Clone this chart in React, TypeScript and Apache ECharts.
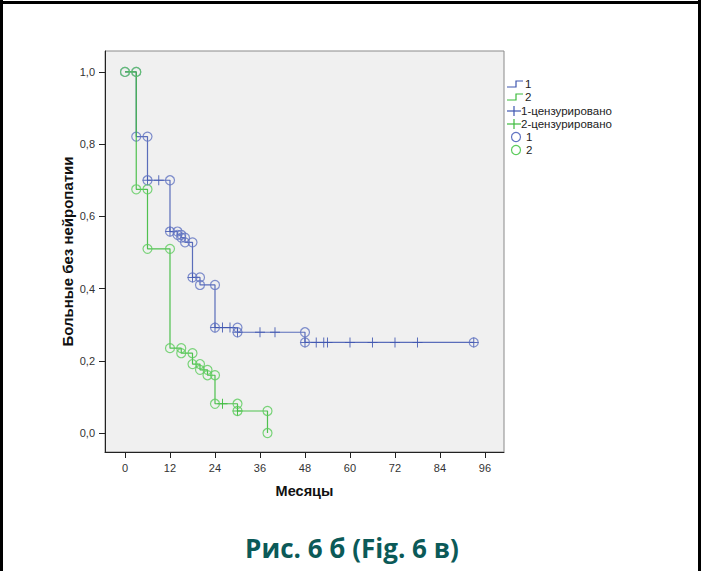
import React, { useEffect, useRef } from "react";
import * as echarts from "echarts";

// Axis ticks
const monthTicks = [0, 12, 24, 36, 48, 60, 72, 84, 96];
const survivalTicks = [0, 0.2, 0.4, 0.6, 0.8, 1.0];

// Group 1: event times (months) and survival after each event
const eventTimes1 = [0, 3, 6, 12, 14, 15, 16, 18, 20, 24, 30, 48];
const survival1 = [1, 0.821, 0.7, 0.558, 0.549, 0.541, 0.528, 0.431, 0.41, 0.292, 0.279, 0.251];
const lastFollowUp1 = 93;
const censoredTimes1 = [6, 9, 12, 18, 24, 26, 28, 30, 36, 40, 48, 51, 53, 54, 60, 66, 72, 78, 93];

// Group 2
const eventTimes2 = [0, 3, 6, 12, 15, 18, 20, 22, 24, 30, 38];
const survival2 = [1, 0.675, 0.51, 0.235, 0.221, 0.191, 0.175, 0.16, 0.081, 0.061, 0];
const lastFollowUp2 = 38;
const censoredTimes2 = [26, 30];

const BLUE = "#3f56b0";
const GREEN = "#3dbb3d";
const BLUE_MARK = "#6174c2";
const GREEN_MARK = "#5ccc5c";

const PLUS = "path://M4.5,0h1v10h-1zM0,4.5h10v1h-10z";

function stepValue(times: number[], values: number[], t: number) {
  let v = values[0];
  for (let i = 0; i < times.length; i++) if (times[i] <= t) v = values[i];
  return v;
}

function curve(times: number[], values: number[], last: number) {
  const pts = times.map((t, i) => [t, values[i]]);
  if (last > times[times.length - 1]) pts.push([last, values[values.length - 1]]);
  return pts;
}

function eventMarks(times: number[], values: number[], last: number) {
  const pts: number[][] = [[times[0], values[0]]];
  for (let i = 1; i < times.length; i++) {
    pts.push([times[i], values[i - 1]]);
    pts.push([times[i], values[i]]);
  }
  if (last > times[times.length - 1]) pts.push([last, values[values.length - 1]]);
  return pts;
}

function censorMarks(times: number[], values: number[], cens: number[]) {
  return cens.map((t) => [t, stepValue(times, values, t)]);
}

const fmt = (v: number) => v.toFixed(1).replace(".", ",");

export default function App() {
  const ref = useRef<HTMLDivElement>(null);

  useEffect(() => {
    if (!ref.current) return;
    const chart = echarts.init(ref.current, undefined, { renderer: "svg" });
    const font = "'Liberation Sans', Arial, sans-serif";
    const legendRows = [84, 97, 111, 124, 137, 150];

    const stepIcon = (y: number, color: string) => ({
      type: "polyline",
      shape: { points: [[507, y + 3], [516, y + 3], [516, y - 3], [523, y - 3]] },
      style: { stroke: color, lineWidth: 1.2, fill: "none" },
    });
    const plusIcon = (y: number, color: string) => ({
      type: "group",
      children: [
        { type: "line", shape: { x1: 507, y1: y, x2: 521, y2: y }, style: { stroke: color, lineWidth: 1.2 } },
        { type: "line", shape: { x1: 514, y1: y - 5, x2: 514, y2: y + 5 }, style: { stroke: color, lineWidth: 1.2 } },
      ],
    });
    const circleIcon = (y: number, color: string) => ({
      type: "circle",
      shape: { cx: 516, cy: y, r: 4.5 },
      style: { stroke: color, lineWidth: 1.2, fill: "none" },
    });
    const legendText = (x: number, y: number, text: string) => ({
      type: "text",
      x,
      y,
      style: { text, font: `11.5px ${font}`, fill: "#222", verticalAlign: "middle", align: "left" },
    });

    chart.setOption({
      animation: false,
      backgroundColor: "#ffffff",
      grid: {
        left: 105,
        top: 51,
        width: 399,
        height: 401,
        show: true,
        backgroundColor: "#f0f0f0",
        borderColor: "#8a8a8a",
        borderWidth: 1,
      },
      xAxis: {
        type: "value",
        min: -5.333,
        max: 101.07,
        name: "Месяцы",
        nameLocation: "middle",
        nameGap: 31,
        nameTextStyle: { fontFamily: font, fontWeight: "bold", fontSize: 14.5, color: "#111" },
        axisLine: { onZero: false, lineStyle: { color: "#222", width: 1 } },
        axisTick: { show: true, length: 6, customValues: monthTicks, lineStyle: { color: "#222" } },
        axisLabel: { customValues: monthTicks, margin: 10, fontFamily: font, fontSize: 11, color: "#333" },
        splitLine: { show: false },
      },
      yAxis: {
        type: "value",
        min: -0.0526,
        max: 1.058,
        name: "Больные без нейропатии",
        nameLocation: "middle",
        nameGap: 30,
        nameMoveOverlap: false,
        nameTextStyle: { fontFamily: font, fontWeight: "bold", fontSize: 15, color: "#111" },
        axisLine: { show: true, onZero: false, lineStyle: { color: "#222", width: 1 } },
        axisTick: { show: true, length: 6, customValues: survivalTicks, lineStyle: { color: "#222" } },
        axisLabel: {
          customValues: survivalTicks,
          margin: 10,
          fontFamily: font,
          fontSize: 11,
          color: "#333",
          formatter: (v: number) => fmt(v),
        },
        splitLine: { show: false },
      },
      series: [
        {
          name: "1",
          type: "line",
          step: "end",
          data: curve(eventTimes1, survival1, lastFollowUp1),
          showSymbol: false,
          symbol: "none",
          clip: false,
          lineStyle: { color: BLUE, width: 1.2, opacity: 0.85 },
          z: 2,
        },
        {
          name: "1-цензурировано",
          type: "scatter",
          data: censorMarks(eventTimes1, survival1, censoredTimes1),
          symbol: PLUS,
          symbolSize: 10,
          itemStyle: { color: BLUE, opacity: 0.85 },
          z: 3,
        },
        {
          name: "1",
          type: "scatter",
          data: eventMarks(eventTimes1, survival1, lastFollowUp1),
          symbol: "circle",
          symbolSize: 9,
          itemStyle: { color: "transparent", borderColor: BLUE_MARK, borderWidth: 1.2 },
          z: 3,
        },
        {
          name: "2",
          type: "line",
          step: "end",
          data: curve(eventTimes2, survival2, lastFollowUp2),
          showSymbol: false,
          symbol: "none",
          clip: false,
          lineStyle: { color: GREEN, width: 1.2, opacity: 0.9 },
          z: 4,
        },
        {
          name: "2-цензурировано",
          type: "scatter",
          data: censorMarks(eventTimes2, survival2, censoredTimes2),
          symbol: PLUS,
          symbolSize: 10,
          itemStyle: { color: GREEN, opacity: 0.9 },
          z: 5,
        },
        {
          name: "2",
          type: "scatter",
          data: eventMarks(eventTimes2, survival2, lastFollowUp2),
          symbol: "circle",
          symbolSize: 9,
          itemStyle: { color: "transparent", borderColor: GREEN_MARK, borderWidth: 1.2 },
          z: 5,
        },
      ],
      graphic: [
        // outer frame
        { type: "line", shape: { x1: 0, y1: 2.5, x2: 701, y2: 2.5 }, style: { stroke: "#000", lineWidth: 3 } },
        { type: "line", shape: { x1: 1.5, y1: 0, x2: 1.5, y2: 571 }, style: { stroke: "#000", lineWidth: 3 } },
        { type: "line", shape: { x1: 699.5, y1: 0, x2: 699.5, y2: 571 }, style: { stroke: "#000", lineWidth: 3 } },
        // legend
        stepIcon(legendRows[0], BLUE),
        legendText(525, legendRows[0], "1"),
        stepIcon(legendRows[1], GREEN),
        legendText(525, legendRows[1], "2"),
        plusIcon(legendRows[2], BLUE),
        legendText(521, legendRows[2], "1-цензурировано"),
        plusIcon(legendRows[3], GREEN),
        legendText(521, legendRows[3], "2-цензурировано"),
        circleIcon(legendRows[4], BLUE_MARK),
        legendText(526, legendRows[4], "1"),
        circleIcon(legendRows[5], GREEN_MARK),
        legendText(526, legendRows[5], "2"),
        // caption
        {
          type: "text",
          x: 352,
          y: 548,
          style: {
            text: "Рис. 6 б (Fig. 6 в)",
            font: "bold 26px 'Open Sans', sans-serif",
            fill: "#0b5a58",
            align: "center",
            verticalAlign: "middle",
          },
        },
      ],
    });
    return () => chart.dispose();
  }, []);

  return <div ref={ref} style={{ position: "absolute", left: 0, top: 0, width: 701, height: 571 }} />;
}
